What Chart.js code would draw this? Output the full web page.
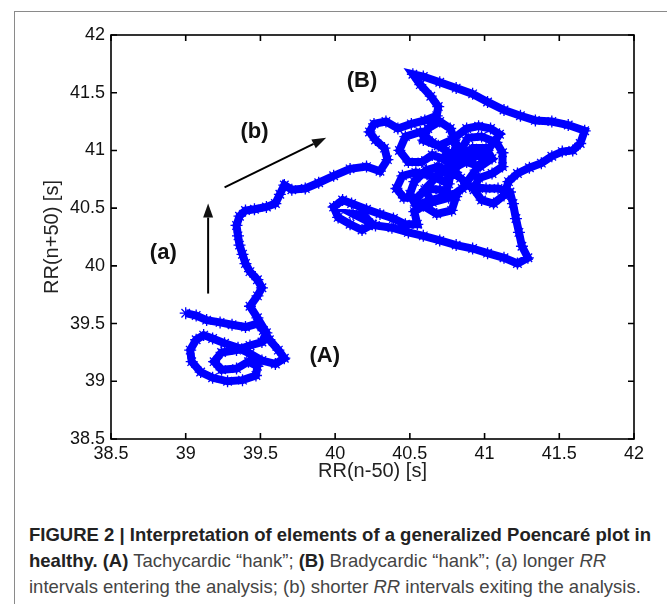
<!DOCTYPE html>
<html>
<head>
<meta charset="utf-8">
<script src="https://cdn.jsdelivr.net/npm/chart.js@4/dist/chart.umd.min.js"></script>
<style>
  body { margin: 0; background: #fff; width: 667px; height: 604px; overflow: hidden; position: relative; font-family: "Liberation Sans", Arial, sans-serif; }
  #frame { position: absolute; left: 14px; top: 11px; width: 700px; height: 700px; border-left: 1px solid #8a8a8a; border-top: 1px solid #8a8a8a; }
  #wrap { position: absolute; left: 0; top: 0; width: 667px; height: 500px; }
  #caption { position: absolute; left: 29px; top: 522px; width: 640px; white-space: nowrap; font-family: "Liberation Sans", Arial, sans-serif; font-size: 18.5px; line-height: 26px; color: #444; }
  #caption b { color: #222; }
</style>
</head>
<body>
<div id="frame"></div>
<div id="wrap"><canvas id="chart" width="667" height="500"></canvas></div>
<div id="caption"><b>FIGURE 2 | Interpretation of elements of a generalized Poencaré plot in</b><br><b>healthy. (A)</b> Tachycardic “hank”; <b>(B)</b> Bradycardic “hank”; (a) longer <i>RR</i><br>intervals entering the analysis; (b) shorter <i>RR</i> intervals exiting the analysis.</div>
<script>
// RR(n-50) / RR(n+50) pairs, in drawing order
// (A) tachycardic hank
const tachyX = [39.00, 39.07, 39.14, 39.23, 39.31, 39.40, 39.48, 39.52, 39.56, 39.62, 39.66, 39.60, 39.51, 39.43, 39.35, 39.26, 39.18, 39.12, 39.07, 39.03,
  39.04, 39.10, 39.18, 39.28, 39.38, 39.47, 39.48, 39.42, 39.34, 39.24, 39.19, 39.24, 39.34, 39.43, 39.51, 39.54, 39.48, 39.43, 39.48, 39.51];
const tachyY = [39.59, 39.57, 39.53, 39.51, 39.49, 39.47, 39.50, 39.44, 39.36, 39.27, 39.20, 39.15, 39.18, 39.24, 39.29, 39.33, 39.37, 39.40, 39.36, 39.27,
  39.17, 39.08, 39.03, 39.00, 39.01, 39.05, 39.13, 39.17, 39.11, 39.10, 39.17, 39.25, 39.27, 39.31, 39.34, 39.42, 39.55, 39.65, 39.74, 39.81];
// wandering path between the hanks
const linkX = [39.48, 39.43, 39.40, 39.38, 39.36, 39.35, 39.34, 39.36, 39.40, 39.46, 39.54, 39.60, 39.63, 39.66, 39.71, 39.80, 39.89, 39.99, 40.10, 40.21, 40.30];
const linkY = [39.88, 39.95, 40.02, 40.10, 40.18, 40.26, 40.35, 40.43, 40.48, 40.49, 40.51, 40.54, 40.62, 40.70, 40.66, 40.67, 40.72, 40.78, 40.84, 40.86, 40.82];
// (B) bradycardic hank
const bradyX = [40.35, 40.33, 40.27, 40.23, 40.26, 40.34, 40.42, 40.51, 40.60, 40.68, 40.69, 40.64, 40.57, 40.52, 40.59, 40.70, 40.81, 40.92, 41.02, 41.13,
  41.24, 41.34, 41.45, 41.56, 41.67, 41.64, 41.59, 41.52, 41.45, 41.38, 41.30, 41.22, 41.16, 41.13, 41.06, 40.98, 40.93, 40.96, 41.05, 41.12,
  41.12, 41.08, 40.98, 40.89, 40.84, 40.88, 40.97, 41.05, 41.01, 40.92, 40.82, 40.74, 40.65, 40.57, 40.47, 40.43, 40.49, 40.58, 40.65, 40.74,
  40.81, 40.73, 40.64, 40.54, 40.45, 40.41, 40.46, 40.55, 40.61, 40.70, 40.81, 40.78, 40.68, 40.59, 40.53, 40.55, 40.47, 40.39, 40.30, 40.21,
  40.11, 40.05, 39.99, 40.02, 40.10, 40.18, 40.25, 40.19, 40.12, 40.27, 40.38, 40.49, 40.59, 40.70, 40.81, 40.92, 41.02, 41.13, 41.22, 41.29,
  41.25, 41.23, 41.21, 41.19, 41.17, 41.09, 41.01, 40.90, 40.84, 40.76, 40.69, 40.61, 40.53, 40.50, 40.54, 40.64, 40.73, 40.76, 40.78, 40.81,
  40.77, 40.70, 40.62, 40.59, 40.69, 40.78, 40.88, 40.96, 41.04, 41.10, 41.02, 40.90, 40.80, 40.69, 40.60, 40.65, 40.76, 40.85, 40.94, 41.00,
  40.90, 40.78, 40.70];
const bradyY = [40.92, 41.02, 41.09, 41.16, 41.23, 41.25, 41.19, 41.23, 41.26, 41.30, 41.38, 41.47, 41.57, 41.66, 41.64, 41.59, 41.54, 41.49, 41.42, 41.35,
  41.30, 41.26, 41.25, 41.22, 41.17, 41.06, 41.00, 40.99, 40.95, 40.89, 40.85, 40.80, 40.73, 40.61, 40.54, 40.57, 40.66, 40.76, 40.80, 40.86,
  40.98, 41.07, 41.12, 41.11, 41.00, 40.90, 40.86, 40.93, 41.02, 41.02, 40.92, 41.00, 41.07, 41.16, 41.12, 41.00, 40.90, 40.90, 40.96, 40.92,
  40.81, 40.73, 40.78, 40.81, 40.78, 40.67, 40.59, 40.59, 40.67, 40.66, 40.60, 40.48, 40.45, 40.52, 40.47, 40.36, 40.36, 40.41, 40.45, 40.49,
  40.54, 40.57, 40.51, 40.42, 40.36, 40.31, 40.36, 40.44, 40.45, 40.35, 40.33, 40.29, 40.26, 40.22, 40.18, 40.15, 40.11, 40.07, 40.02, 40.07,
  40.17, 40.29, 40.41, 40.54, 40.64, 40.67, 40.67, 40.69, 40.76, 40.83, 40.86, 40.83, 40.73, 40.62, 40.52, 40.57, 40.60, 40.71, 40.88, 41.06,
  41.19, 41.25, 41.19, 41.09, 41.04, 41.09, 41.19, 41.21, 41.19, 41.14, 41.00, 40.92, 40.85, 40.79, 40.66, 40.55, 40.59, 40.67, 40.83, 40.93,
  40.99, 40.97, 40.92];
const tickValues = [38.5, 39, 39.5, 40, 40.5, 41, 41.5, 42];

// annotations in data units
const notes = [
  { text: '(B)', x: 40.18, y: 41.60 },
  { text: '(b)', x: 39.46, y: 41.16 },
  { text: '(a)', x: 38.85, y: 40.11 },
  { text: '(A)', x: 39.93, y: 39.22 }
];
const arrows = [
  { from: [39.15, 39.76], to: [39.15, 40.54] },
  { from: [39.26, 40.68], to: [39.94, 41.11] }
];

const xs = tachyX.concat(linkX, bradyX);
const ys = tachyY.concat(linkY, bradyY);
const points = xs.map((v, i) => ({ x: v, y: ys[i] }));

const framePlugin = {
  id: 'frame',
  afterDraw(chart) {
    const ctx = chart.ctx;
    const a = chart.chartArea;
    const sx = chart.scales.x, sy = chart.scales.y;
    ctx.save();
    ctx.strokeStyle = '#000';
    ctx.lineWidth = 1.6;
    ctx.strokeRect(a.left, a.top, a.right - a.left, a.bottom - a.top);
    // MATLAB style inward ticks, all four sides
    ctx.beginPath();
    tickValues.forEach(v => {
      const px = sx.getPixelForValue(v);
      ctx.moveTo(px, a.bottom); ctx.lineTo(px, a.bottom - 6);
      ctx.moveTo(px, a.top); ctx.lineTo(px, a.top + 6);
      const py = sy.getPixelForValue(v);
      ctx.moveTo(a.left, py); ctx.lineTo(a.left + 6, py);
      ctx.moveTo(a.right, py); ctx.lineTo(a.right - 6, py);
    });
    ctx.stroke();

    ctx.fillStyle = '#111';
    ctx.font = 'bold 22px "Liberation Sans", Arial, sans-serif';
    ctx.textAlign = 'center';
    ctx.textBaseline = 'middle';
    notes.forEach(n => ctx.fillText(n.text, sx.getPixelForValue(n.x), sy.getPixelForValue(n.y)));

    ctx.lineWidth = 2;
    arrows.forEach(ar => {
      const x0 = sx.getPixelForValue(ar.from[0]), y0 = sy.getPixelForValue(ar.from[1]);
      const x1 = sx.getPixelForValue(ar.to[0]), y1 = sy.getPixelForValue(ar.to[1]);
      const ang = Math.atan2(y1 - y0, x1 - x0);
      const hl = 14, hw = 5;
      const bx = x1 - hl * Math.cos(ang), by = y1 - hl * Math.sin(ang);
      ctx.beginPath();
      ctx.moveTo(x0, y0); ctx.lineTo(bx, by);
      ctx.stroke();
      ctx.beginPath();
      ctx.moveTo(x1, y1);
      ctx.lineTo(bx + hw * Math.sin(ang), by - hw * Math.cos(ang));
      ctx.lineTo(bx - hw * Math.sin(ang), by + hw * Math.cos(ang));
      ctx.closePath();
      ctx.fill();
    });
    ctx.restore();
  }
};

const tickFont = { family: '"Liberation Sans", Arial, sans-serif', size: 18 };
const titleFont = { family: '"Liberation Sans", Arial, sans-serif', size: 20 };

new Chart(document.getElementById('chart'), {
  type: 'scatter',
  data: {
    datasets: [{
      data: points,
      showLine: true,
      borderColor: '#0000ff',
      borderWidth: 8,
      pointStyle: 'star',
      pointRadius: 6,
      pointBorderWidth: 1.3,
      pointBorderColor: '#0000ff',
      pointBackgroundColor: '#0000ff',
      tension: 0
    }]
  },
  options: {
    responsive: false,
    animation: false,
    events: [],
    layout: { padding: { left: 36, top: 35, right: 33, bottom: 17 } },
    plugins: { legend: { display: false }, tooltip: { enabled: false } },
    scales: {
      x: {
        type: 'linear', min: 38.5, max: 42,
        afterBuildTicks: s => { s.ticks = tickValues.map(v => ({ value: v })); },
        afterFit: s => { s.height = 44; },
        grid: { display: false, drawTicks: false }, border: { display: false },
        ticks: { color: '#111', padding: 4, maxRotation: 0, font: tickFont, callback: v => String(v) },
        title: { display: true, text: 'RR(n-50) [s]', color: '#222', padding: 0, font: titleFont }
      },
      y: {
        type: 'linear', min: 38.5, max: 42,
        afterBuildTicks: s => { s.ticks = tickValues.map(v => ({ value: v })); },
        afterFit: s => { s.width = 75; },
        grid: { display: false, drawTicks: false }, border: { display: false },
        ticks: { color: '#111', padding: 6, font: tickFont, callback: v => String(v) },
        title: { display: true, text: 'RR(n+50) [s]', color: '#222', padding: 4, font: titleFont }
      }
    }
  },
  plugins: [framePlugin]
});
</script>
</body>
</html>
